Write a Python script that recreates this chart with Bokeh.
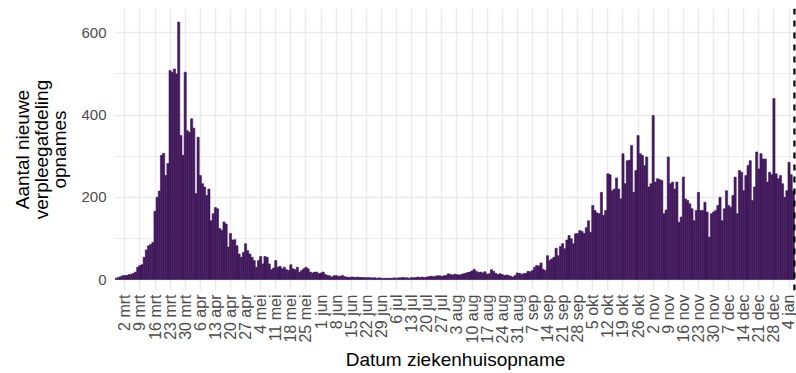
from datetime import date
import numpy as np
from bokeh.plotting import figure
from bokeh.models import Range1d, FixedTicker, Span, AllLabels
from bokeh.embed import file_html
from bokeh.resources import INLINE

# ---- data -------------------------------------------------------------
first_date = date(2020, 2, 27)          # first bar
tick_origin = date(2020, 3, 2)          # first tick label ("2 mrt")
cutoff_date = date(2021, 1, 7)          # dashed line (boundary before this date)

admissions = [
    3, 5, 7, 9,
    10, 10, 12, 13, 15, 18, 30, 34, 36, 54,
    72, 82, 85, 90, 166, 200, 215, 302, 307, 253,
    282, 508, 504, 512, 500, 626, 350, 302, 504, 362,
    358, 391, 368, 209, 346, 253, 233, 225, 204, 220,
    143, 160, 175, 172, 124, 120, 140, 135, 79, 112,
    96, 97, 82, 62, 54, 66, 87, 70, 62, 54,
    46, 30, 46, 56, 38, 56, 54, 38, 24, 28,
    46, 30, 32, 26, 30, 24, 22, 36, 26, 24,
    30, 18, 22, 26, 30, 26, 18, 16, 18, 18,
    14, 16, 18, 12, 10, 9, 6, 9, 10, 8,
    8, 10, 7, 6, 5, 6, 6, 5, 6, 5,
    5, 5, 4, 5, 4, 4, 4, 3, 4, 3,
    3, 3, 3, 3, 3, 4, 3, 4, 4, 5,
    4, 4, 3, 5, 4, 5, 6, 5, 6, 5,
    6, 7, 8, 7, 8, 9, 9, 8, 9, 10,
    14, 12, 11, 13, 12, 11, 12, 14, 15, 17,
    18, 21, 25, 20, 17, 18, 16, 19, 13, 14,
    24, 20, 15, 12, 14, 12, 10, 11, 10, 8,
    6, 10, 16, 15, 13, 14, 15, 20, 19, 22,
    30, 34, 33, 40, 25, 22, 58, 46, 50, 54,
    76, 58, 80, 87, 75, 96, 107, 99, 87, 111,
    112, 119, 117, 112, 126, 143, 115, 180, 168, 162,
    160, 212, 156, 168, 257, 255, 216, 220, 247, 220,
    196, 306, 233, 289, 290, 326, 212, 265, 350, 306,
    302, 277, 298, 225, 233, 399, 237, 245, 243, 241,
    160, 169, 298, 233, 237, 220, 237, 139, 152, 249,
    196, 192, 184, 172, 143, 168, 212, 168, 168, 188,
    164, 103, 160, 164, 168, 180, 200, 143, 172, 216,
    180, 176, 204, 249, 160, 265, 261, 216, 253, 277,
    289, 192, 225, 310, 269, 306, 293, 293, 237, 261,
    255, 440, 257, 245, 253, 233, 200, 216, 285, 255,
    215,
]

tick_labels = [
    "2 mrt", "9 mrt", "16 mrt", "23 mrt", "30 mrt",
    "6 apr", "13 apr", "20 apr", "27 apr",
    "4 mei", "11 mei", "18 mei", "25 mei",
    "1 jun", "8 jun", "15 jun", "22 jun", "29 jun",
    "6 jul", "13 jul", "20 jul", "27 jul",
    "3 aug", "10 aug", "17 aug", "24 aug", "31 aug",
    "7 sep", "14 sep", "21 sep", "28 sep",
    "5 okt", "12 okt", "19 okt", "26 okt",
    "2 nov", "9 nov", "16 nov", "23 nov", "30 nov",
    "7 dec", "14 dec", "21 dec", "28 dec",
    "4 jan",
]

y_ticks = [0, 200, 400, 600]
y_minor = [100, 300, 500]

# ---- derived positions (days since tick_origin) ------------------------
offset0 = (first_date - tick_origin).days
x_days = [offset0 + i for i in range(len(admissions))]
tick_pos = [7 * i for i in range(len(tick_labels))]
cutoff_x = (cutoff_date - tick_origin).days - 0.5

FONT = "Liberation Sans"
BAR = "#421a5c"
GRID = "#ebebeb"

p = figure(
    width=796, height=373,
    output_backend="svg", toolbar_location=None,
    x_range=Range1d(-4.78, 311.46),
    y_range=Range1d(-26.7, 659),
    min_border_left=114, min_border_right=0,
    min_border_top=8, min_border_bottom=83,
)
p.outline_line_color = None
p.background_fill_color = "white"
p.border_fill_color = "white"

p.vbar(x=x_days, top=admissions, bottom=0, width=1.0,
       fill_color=BAR, line_color=BAR, line_width=0.6)

p.add_layout(Span(location=cutoff_x, dimension="height",
                  line_color="black", line_dash="6 6", line_width=2.2))

# x axis
xa = p.xaxis[0]
xa.ticker = FixedTicker(ticks=tick_pos)
xa.major_label_overrides = {t: lab for t, lab in zip(tick_pos, tick_labels)}
xa.major_label_policy = AllLabels()
xa.major_label_orientation = np.pi / 2
xa.major_tick_line_color = None
xa.minor_tick_line_color = None
xa.major_tick_out = 0
xa.minor_tick_out = 0
xa.major_tick_in = 0
xa.minor_tick_in = 0
xa.axis_line_color = None
xa.major_label_text_font = FONT
xa.major_label_text_font_size = "16px"
xa.major_label_text_color = "#4d4d4d"
xa.major_label_standoff = 4
xa.axis_label = "Datum ziekenhuisopname"
xa.axis_label_text_font = FONT
xa.axis_label_text_font_size = "19px"
xa.axis_label_text_font_style = "normal"
xa.axis_label_text_color = "black"
xa.axis_label_standoff = 3

# y axis
ya = p.yaxis[0]
ya.ticker = FixedTicker(ticks=y_ticks, minor_ticks=y_minor)
ya.major_tick_line_color = None
ya.minor_tick_line_color = None
ya.major_tick_out = 0
ya.minor_tick_out = 0
ya.major_tick_in = 0
ya.minor_tick_in = 0
ya.axis_line_color = None
ya.major_label_text_font = FONT
ya.major_label_text_font_size = "15px"
ya.major_label_text_color = "#4d4d4d"
ya.major_label_standoff = 8
ya.axis_label = "Aantal nieuwe\nverpleegafdeling\nopnames"
ya.axis_label_text_font = FONT
ya.axis_label_text_font_size = "19px"
ya.axis_label_text_font_style = "normal"
ya.axis_label_text_color = "black"
ya.axis_label_text_line_height = 0.9
ya.axis_label_standoff = 8

# grids
p.xgrid.grid_line_color = GRID
p.xgrid.grid_line_width = 1.5
p.ygrid.grid_line_color = GRID
p.ygrid.grid_line_width = 1.5
p.ygrid.minor_grid_line_color = GRID
p.ygrid.minor_grid_line_width = 1.2

open("out.html", "w").write(file_html(p, INLINE))
